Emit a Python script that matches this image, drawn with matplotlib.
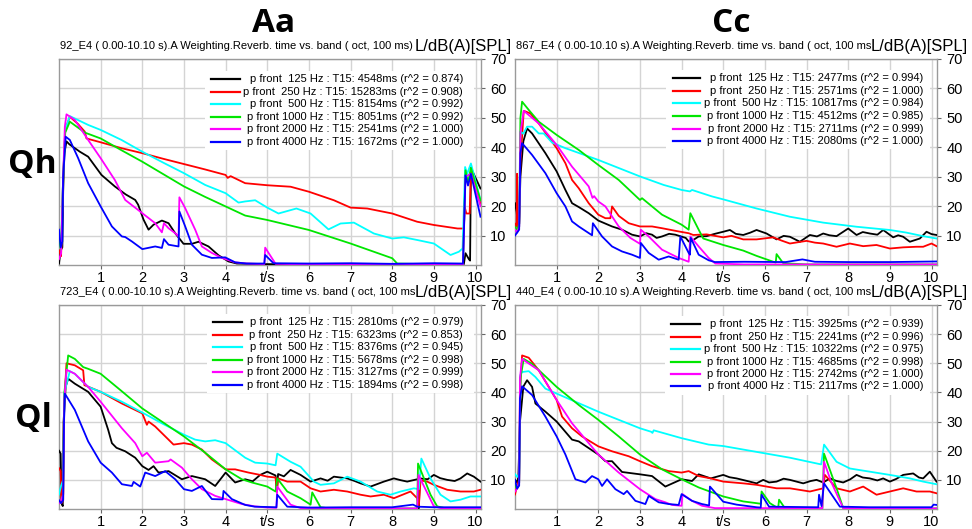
import matplotlib
matplotlib.use("Agg")
import matplotlib.pyplot as plt
from matplotlib.patches import Rectangle

plt.rcParams['font.family'] = ['Liberation Sans', 'DejaVu Sans']

# bands / colours shared by every panel
bands = [' 125', ' 250', ' 500', '1000', '2000', '4000']
colors = ['#000000', '#ff0000', '#00ffff', '#00e600', '#ff00ff', '#0000ff']

# ---------------- Aa / Qh  (92_E4) ----------------
aa_qh_t15 = [4548, 15283, 8154, 8051, 2541, 1672]
aa_qh_r2 = ['0.874', '0.908', '0.992', '0.992', '1.000', '1.000']
aa_qh_125 = [(0, 0.5), (0.04, 5), (0.08, 6), (0.1, 25), (0.13, 38), (0.18, 42), (0.25, 41), (0.5, 38.5), (0.7, 36.8),
             (1.02, 30.6), (1.34, 26.7), (1.6, 24), (1.83, 22.1), (1.9, 20.5), (2.03, 15.4), (2.15, 12), (2.27, 13.7),
             (2.47, 15.1), (2.63, 14.2), (2.79, 10.8), (2.99, 7.2), (3.19, 7.2), (3.35, 7.9), (3.59, 6.3), (3.83, 3.3),
             (4.07, 1.2), (4.27, 0.5), (5, 0.3), (6, 0.2), (7, 0.2), (8, 0.2), (9, 0.2), (9.72, 0.3), (9.76, 4),
             (9.84, 2), (9.87, 1.5), (9.89, 33), (10.12, 26)]
aa_qh_250 = [(0, 5), (0.05, 3), (0.1, 30), (0.15, 46), (0.26, 50.4), (0.45, 48), (0.62, 45.3), (0.66, 43), (1.0, 41.7),
             (1.5, 39.7), (2, 38), (2.5, 36.1), (3, 34.3), (3.5, 32.5), (4, 30.6), (4.05, 29.6), (4.12, 30.2),
             (4.47, 27.8), (5.0, 27.1), (5.56, 26.6), (6, 24.9), (6.6, 22), (7, 19.5), (7.4, 19.2), (8, 17.5),
             (8.6, 14.7), (9, 13.6), (9.57, 12.4), (9.72, 12.4), (9.74, 19.8), (9.78, 17.5), (9.86, 17.5),
             (9.89, 32), (10.12, 21)]
aa_qh_500 = [(0, 11), (0.05, 6), (0.1, 30), (0.15, 46), (0.26, 50.6), (0.7, 47.6), (1, 45.9), (1.5, 42.5), (2, 38.5),
             (2.5, 34.8), (3, 31.2), (3.51, 27.2), (4, 24.4), (4.31, 21.2), (4.47, 21.6), (4.71, 22), (5, 19.5),
             (5.27, 17.5), (5.7, 19.2), (6.04, 17.5), (6.47, 12.1), (6.76, 14.1), (7.08, 14.4), (7.56, 10.7), (8, 9),
             (8.28, 9.4), (8.6, 8.5), (9, 7.3), (9.4, 3.4), (9.6, 4.5), (9.69, 5.6), (9.75, 33.3), (9.8, 31),
             (9.89, 34.5), (10.12, 22)]
aa_qh_1000 = [(0, 9), (0.05, 5), (0.1, 30), (0.15, 45), (0.26, 48.7), (0.62, 45), (1, 43), (1.5, 39), (2, 35.1),
              (2.5, 30.9), (3, 26.7), (3.5, 23.2), (4, 19.9), (4.47, 16.8), (5, 15.3), (5.5, 13.6), (6, 11.9),
              (6.5, 9.6), (7, 7.3), (7.5, 4.8), (8, 2.3), (8.12, 0.5), (9, 0.2), (9.7, 0.3), (9.76, 32.2),
              (9.82, 28), (9.89, 33), (10.12, 22)]
aa_qh_2000 = [(0, 2), (0.05, 4), (0.1, 30), (0.14, 47), (0.18, 51.2), (0.38, 49.3), (0.7, 42.5), (1, 36.3),
              (1.34, 28.9), (1.59, 22.1), (2, 17.6), (2.31, 14.2), (2.47, 11.1), (2.52, 14.2), (2.63, 12.5),
              (2.79, 10.8), (2.87, 9.7), (2.89, 23), (3.03, 19.3), (3.27, 12), (3.43, 6.3), (3.67, 4.1), (3.91, 2.4),
              (4.23, 0.9), (4.5, 0.5), (4.93, 0.3), (4.95, 5.9), (5.2, 0.4), (6, 0.2), (9.7, 0.2), (9.76, 30),
              (9.89, 31), (10.12, 20)]
aa_qh_4000 = [(0, 12), (0.04, 6), (0.08, 8), (0.1, 30), (0.16, 43.6), (0.26, 42.5), (0.46, 36.3), (0.7, 27.8),
              (1, 19.9), (1.27, 13.1), (1.51, 9.7), (1.59, 9.5), (1.75, 8), (2, 5.4), (2.31, 6.3), (2.47, 5.8),
              (2.52, 8.8), (2.63, 6.9), (2.87, 6.3), (2.89, 18.2), (3.03, 13.1), (3.19, 6.9), (3.43, 3.5),
              (3.67, 2.4), (3.99, 2.6), (4.23, 0.9), (4.5, 0.5), (4.93, 0.5), (4.95, 3.4), (5.15, 0.6), (6, 0.5),
              (7, 0.6), (8, 0.4), (9, 0.6), (9.7, 0.5), (9.76, 30.5), (9.82, 27), (9.89, 31), (10.12, 16.4)]

# ---------------- Cc / Qh  (867_E4) ----------------
cc_qh_t15 = [2477, 2571, 10817, 4512, 2711, 2080]
cc_qh_r2 = ['0.994', '1.000', '0.984', '0.985', '0.999', '1.000']
cc_qh_125 = [(0, 21), (0.04, 18), (0.07, 13), (0.1, 14), (0.13, 30), (0.2, 42), (0.29, 46.4), (0.41, 44.7),
             (0.73, 38), (1, 31.8), (1.21, 25.5), (1.37, 21), (1.53, 19.7), (1.77, 17.6), (2, 15.1), (2.33, 13.1),
             (2.57, 12), (2.81, 10.3), (3, 9.7), (3.15, 10.8), (3.29, 10.3), (3.4, 9.2), (3.53, 9.7), (3.7, 10.6),
             (3.85, 10.3), (4.1, 9.2), (4.17, 8), (4.28, 8.5), (4.41, 9.7), (4.6, 9.8), (4.8, 10.6), (5, 11.3),
             (5.16, 11.9), (5.3, 10.6), (5.48, 10.2), (5.65, 11), (5.8, 11.9), (6.04, 10.7), (6.28, 8.7),
             (6.45, 9.9), (6.6, 9.6), (6.84, 7.9), (7.08, 10.2), (7.25, 9.7), (7.4, 10.7), (7.55, 10.1),
             (7.72, 9.8), (8, 12.4), (8.2, 10.2), (8.35, 11.2), (8.52, 10.7), (8.7, 10.3), (8.84, 11.9),
             (9.08, 9.4), (9.2, 10.1), (9.32, 9.6), (9.48, 7.9), (9.72, 9), (9.88, 11.3), (10, 10.5), (10.12, 10.2)]
cc_qh_250 = [(0, 14), (0.04, 13), (0.05, 31), (0.07, 13), (0.1, 13), (0.13, 35), (0.21, 52.4), (0.37, 51.5),
             (0.57, 48.1), (1, 39.7), (1.21, 34.6), (1.37, 28.9), (1.53, 26.1), (1.77, 21), (2, 17.1), (2.17, 15.9),
             (2.29, 15.9), (2.33, 19.9), (2.49, 16.7), (2.73, 14.2), (3, 13.1), (3.29, 13.1), (3.53, 12.5),
             (3.93, 11.4), (4.17, 10.8), (4.28, 10.2), (4.6, 10.4), (5, 9.4), (5.2, 9.9), (5.48, 8.7), (5.8, 8.7),
             (6.2, 9.4), (6.4, 8.3), (6.6, 7.3), (7, 8.2), (7.2, 7.6), (7.4, 7.3), (7.72, 6.2), (8.04, 7.3),
             (8.36, 6.4), (8.68, 6.8), (9, 5.6), (9.32, 6), (9.64, 6.2), (9.8, 6.2), (10, 7.3), (10.12, 6.4)]
cc_qh_500 = [(0, 12), (0.05, 11), (0.1, 13), (0.13, 45.3), (0.2, 44.6), (0.29, 47), (0.41, 47), (0.57, 44.7),
             (0.69, 44.7), (0.89, 41.6), (1.21, 39.7), (2, 35.7), (3, 30.1), (3.57, 27.2), (4, 25.5), (4.2, 25),
             (4.25, 25.5), (4.73, 23.3), (5, 22.3), (5.8, 19.2), (6.6, 16.4), (7.4, 14.4), (8.2, 13), (9, 11.9),
             (9.4, 11), (9.8, 9.8), (10.12, 9)]
cc_qh_1000 = [(0, 13), (0.05, 12), (0.1, 14), (0.13, 50), (0.17, 55.5), (0.33, 52.7), (0.57, 48.7), (1, 44.2),
              (1.53, 39.1), (2, 34), (2.49, 28.9), (3, 22.1), (3.05, 22.7), (3.53, 17.1), (4, 13.7), (4.17, 12),
              (4.21, 17.6), (4.41, 12), (4.52, 9), (5, 6.8), (5.48, 4.9), (5.8, 3.1), (6.2, 1.1), (6.26, 0.8),
              (6.28, 3.7), (6.44, 0.6), (7, 0.2), (8, 0.2), (9, 0.2), (10.12, 0.2)]
cc_qh_2000 = [(0, 12), (0.05, 11), (0.1, 13), (0.13, 45), (0.21, 52.4), (0.57, 48.1), (1, 40.8), (1.37, 33.4),
              (1.77, 26.7), (1.86, 22.8), (1.9, 23.4), (2, 21.6), (2.17, 19.9), (2.49, 13.1), (2.77, 9.2), (3, 7.2),
              (3.02, 12), (3.21, 9.7), (3.53, 5.2), (3.93, 2.4), (4.17, 1.1), (4.21, 9.7), (4.41, 6.3), (4.65, 2.4),
              (4.81, 0.5), (5.5, 0.2), (10.12, 0.2)]
cc_qh_4000 = [(0, 10), (0.05, 11), (0.1, 12), (0.13, 38), (0.17, 41.4), (0.41, 37.4), (0.73, 31.2), (1, 24.4),
              (1.21, 19.9), (1.37, 14.8), (1.53, 13.1), (1.85, 10.1), (1.87, 14.2), (2.09, 9.7), (2.33, 6.3),
              (2.57, 4.6), (2.81, 3.5), (3, 2.4), (3.02, 7.5), (3.21, 4.1), (3.45, 1.8), (3.69, 2.9), (3.93, 1.8),
              (3.97, 9.7), (4.17, 4.1), (4.2, 3.5), (4.22, 9.2), (4.41, 3.5), (4.65, 1.6), (4.8, 1.0), (5.5, 1.1),
              (6.5, 1.0), (6.9, 1.9), (7.2, 1.1), (8, 1.0), (9, 1.0), (10.12, 1.2)]

# ---------------- Aa / Ql  (723_E4) ----------------
aa_ql_t15 = [2810, 6323, 8376, 5678, 3127, 1894]
aa_ql_r2 = ['0.979', '0.853', '0.945', '0.998', '0.999', '0.998']
aa_ql_125 = [(0, 20), (0.04, 19), (0.06, 2), (0.09, 1), (0.11, 30), (0.16, 42), (0.22, 44.7), (0.38, 43),
             (0.7, 40.2), (1, 35.1), (1.18, 27.2), (1.27, 22.6), (1.38, 21), (1.59, 19.8), (1.83, 17.6), (2, 14.7),
             (2.15, 13.4), (2.27, 14.7), (2.39, 12.5), (2.63, 13), (2.95, 10.2), (3.19, 11.3), (3.51, 10.2),
             (3.75, 7.9), (4, 12.5), (4.23, 9.1), (4.47, 10.2), (4.65, 9.5), (4.83, 11.7), (5, 12.8), (5.2, 11.5),
             (5.23, 6), (5.26, 12), (5.4, 11.2), (5.56, 13.4), (5.8, 11.7), (6.04, 9.4), (6.28, 10.5), (6.45, 9.7),
             (6.6, 11.1), (6.92, 10.5), (7.1, 9.6), (7.24, 8.8), (7.48, 7.7), (7.8, 9.4), (8.04, 10.5), (8.2, 9.9),
             (8.36, 9.4), (8.63, 10.3), (8.64, 0.3), (8.66, 10.5), (8.85, 10.2), (9, 11.7), (9.15, 10.6),
             (9.32, 10), (9.5, 9.6), (9.64, 10.5), (9.8, 12.2), (9.96, 11.1), (10.12, 9.4)]
aa_ql_250 = [(0, 14), (0.04, 13), (0.06, 2), (0.1, 3), (0.12, 35), (0.18, 50), (0.38, 49.3), (0.58, 47.6),
             (0.61, 42.5), (1, 40.2), (1.51, 36.2), (2, 32.8), (2.11, 28.9), (2.15, 30), (2.31, 28.3), (2.63, 23.8),
             (2.75, 22.1), (3, 22.6), (3.19, 22.1), (3.43, 20.4), (3.67, 17), (4, 13.6), (4.23, 13.6), (4.55, 12.5),
             (4.83, 11.7), (5, 11.1), (5.2, 10.8), (5.23, 6), (5.26, 10.5), (5.48, 9.4), (5.8, 9.4), (6.04, 7.1),
             (6.28, 6), (6.6, 6.6), (6.92, 6), (7.24, 4.9), (7.48, 4.3), (7.8, 4.9), (8.04, 3.7), (8.44, 6),
             (8.6, 3.7), (8.64, 1), (8.68, 9.8), (8.84, 9.4), (9, 8.3), (9.32, 6.6), (9.64, 6), (9.96, 6),
             (10.12, 6.6)]
aa_ql_500 = [(0, 5), (0.05, 8), (0.1, 10), (0.13, 40), (0.26, 47.3), (0.38, 46.4), (0.62, 43), (0.7, 41.9),
             (1, 40.2), (1.51, 36.8), (2, 33.1), (2.47, 29.4), (3, 25.5), (3.27, 23.8), (3.51, 23.2), (3.75, 23.6),
             (4, 22.6), (4.47, 17.6), (4.71, 15.9), (5, 15.6), (5.2, 15), (5.24, 19), (5.56, 16.2), (5.8, 14.5),
             (6.12, 9.4), (6.28, 8.3), (6.6, 8.8), (6.92, 11.1), (7.24, 9.4), (7.64, 6), (7.96, 4.9), (8.2, 6),
             (8.52, 7.1), (8.64, 6.8), (8.7, 17.3), (8.92, 10.5), (9.16, 4.9), (9.4, 2.6), (9.64, 3.2), (9.88, 4.3),
             (10.12, 4.3)]
aa_ql_1000 = [(0, 2), (0.05, 3), (0.1, 5), (0.13, 40), (0.22, 52.7), (0.38, 51.5), (0.58, 48.7), (0.7, 48.1),
              (1, 46.4), (1.5, 40.5), (2, 34.5), (2.5, 29.7), (3, 24.9), (3.51, 19.3), (4, 13.6), (4.39, 10.2),
              (4.63, 9.1), (5, 7.7), (5.2, 6), (5.24, 10.5), (5.48, 6), (5.8, 3.7), (6.04, 1.5), (6.08, 5.7),
              (6.28, 0.6), (6.5, 0.2), (8.6, 0.2), (8.62, 15.6), (8.92, 4.9), (9.08, 0.9), (9.3, 0.2), (10.12, 0.2)]
aa_ql_2000 = [(0, 2), (0.05, 3), (0.1, 5), (0.13, 38), (0.18, 47.8), (0.38, 46.4), (0.7, 41.9), (1, 36.8),
              (1.51, 27.7), (1.83, 22.6), (2, 18.1), (2.11, 19.3), (2.31, 15.9), (2.63, 16.4), (2.68, 17),
              (2.95, 14.2), (3.19, 10.2), (3.43, 6.8), (3.75, 4.5), (4, 3.4), (4.39, 1.7), (4.7, 0.9), (5, 0.5),
              (5.22, 0.4), (5.24, 7.7), (5.56, 1.5), (5.8, 0.3), (8.6, 0.2), (8.63, 11.7), (9, 0.9), (9.2, 0.2),
              (10.12, 0.2)]
aa_ql_4000 = [(0, 3), (0.05, 2), (0.1, 3), (0.12, 30), (0.14, 39.6), (0.38, 34), (0.7, 23.2), (1, 15.9),
              (1.27, 12.5), (1.51, 8.5), (1.75, 7.9), (1.79, 9.3), (1.95, 7.7), (2.07, 12.5), (2.31, 11.3),
              (2.55, 13), (2.79, 10.2), (3, 6.8), (3.19, 6.2), (3.43, 7.9), (3.67, 3.4), (3.93, 3.3), (3.95, 6.2),
              (4.15, 3.4), (4.47, 1.4), (4.7, 0.8), (5.22, 0.6), (5.24, 4.9), (5.48, 0.8), (6, 0.5), (7, 0.6),
              (8, 0.6), (8.5, 1.5), (8.6, 0.8), (9, 0.6), (10.12, 0.6)]

# ---------------- Cc / Ql  (440_E4) ----------------
cc_ql_t15 = [3925, 2241, 10322, 4685, 2742, 2117]
cc_ql_r2 = ['0.939', '0.996', '0.975', '0.998', '1.000', '1.000']
cc_ql_125 = [(0, 10), (0.05, 9), (0.08, 11), (0.12, 30), (0.2, 42), (0.29, 44.2), (0.41, 41.9), (0.45, 39.1),
             (0.49, 36.2), (0.73, 33.4), (1, 30), (1.37, 23.8), (1.53, 23.2), (2, 18.7), (2.17, 16.4), (2.33, 16.4),
             (2.57, 12.7), (3, 11.9), (3.29, 11.3), (3.61, 7.7), (4, 10.2), (4.25, 9.6), (4.41, 11.9), (4.7, 10.5),
             (5, 11.7), (5.15, 10.9), (5.32, 10.5), (5.55, 9.7), (5.8, 8.8), (5.96, 10), (6.1, 9.1), (6.28, 9.4),
             (6.45, 10.4), (6.6, 10), (6.92, 8.8), (7.1, 9.6), (7.24, 10), (7.4, 9.1), (7.56, 10.5), (7.7, 9.7),
             (7.88, 9.1), (8.05, 10.2), (8.2, 11.7), (8.35, 10.8), (8.52, 10.5), (8.7, 9.8), (8.84, 10.5),
             (9, 9.4), (9.15, 10.3), (9.32, 11.7), (9.56, 12.2), (9.7, 10.8), (9.8, 10.5), (9.96, 12.8),
             (10.12, 9.4)]
cc_ql_250 = [(0, 5), (0.05, 8), (0.1, 10), (0.12, 40), (0.17, 52.7), (0.33, 51.9), (0.57, 47.6), (1, 37.4),
             (1.13, 31.7), (1.37, 27.7), (1.61, 24.9), (2, 21.5), (2.33, 19.8), (2.73, 18.1), (3, 16.4),
             (3.29, 14.7), (3.69, 13), (4, 12.5), (4.17, 13), (4.41, 11.3), (4.7, 10.5), (5, 9.4), (5.48, 8.8),
             (5.8, 8.3), (6.28, 7.1), (6.6, 7.1), (7.08, 6), (7.4, 7.1), (7.44, 11.7), (7.72, 7.1), (8.04, 6),
             (8.36, 7.7), (8.68, 4.9), (9, 6), (9.32, 7.1), (9.64, 6), (9.96, 6), (10.12, 5.4)]
cc_ql_500 = [(0, 12), (0.05, 11), (0.1, 12), (0.13, 46), (0.17, 47), (0.33, 47.3), (0.49, 45.3), (0.73, 41.3),
             (1, 39.6), (2, 33.4), (3, 27.7), (3.27, 26.5), (3.3, 26.1), (3.33, 27), (4, 24.3), (4.65, 22.1),
             (5, 21.6), (5.8, 19.6), (6.6, 17.6), (7.35, 15.3), (7.42, 22.1), (7.72, 16.2), (8.04, 13.9),
             (8.52, 12.8), (9, 11.7), (9.48, 10.5), (9.8, 9.4), (10.12, 8.5)]
cc_ql_1000 = [(0, 8), (0.05, 7), (0.1, 9), (0.13, 45), (0.21, 51.5), (0.41, 49.8), (1, 41.9), (1.53, 35.7),
              (2, 30.6), (2.49, 24.9), (3, 18.7), (3.53, 13.6), (4, 10.2), (4.41, 7.4), (5, 4.3), (5.48, 2.6),
              (5.8, 2), (5.9, 1.8), (5.92, 6), (6.12, 2), (6.28, 0.6), (6.32, 0.5), (6.34, 3.2), (6.48, 0.3),
              (7.38, 0.2), (7.42, 19), (7.72, 7.1), (7.88, 0.3), (10.12, 0.2)]
cc_ql_2000 = [(0, 6), (0.05, 7), (0.1, 9), (0.12, 45), (0.17, 51.5), (0.57, 47.6), (1, 37.4), (1.37, 29.4),
              (2, 18.7), (2.49, 12.5), (3, 6.8), (3.37, 3.4), (3.61, 2.3), (3.77, 1.4), (4, 1.1), (4.02, 5.1),
              (4.25, 2.8), (4.49, 1.1), (4.8, 0.3), (7.38, 0.3), (7.42, 16.2), (7.6, 9), (7.88, 0.3), (10.12, 0.2)]
cc_ql_4000 = [(0, 10), (0.05, 7), (0.1, 8), (0.12, 38), (0.17, 42.1), (0.41, 39.1), (0.73, 31.7), (1, 24.9),
              (1.21, 18.7), (1.45, 10.2), (1.69, 9.1), (1.85, 11.3), (2, 10.2), (2.09, 7.9), (2.21, 10.2),
              (2.41, 6.8), (2.61, 5.1), (2.69, 6.2), (2.89, 2.8), (3.13, 1.7), (3.21, 4.5), (3.45, 2.3), (3.69, 1.7),
              (3.93, 1.4), (4, 5.1), (4.25, 2.8), (4.49, 1.7), (4.66, 1.2), (4.68, 7.7), (5.0, 2.5), (5.32, 1.5),
              (5.8, 0.6), (5.9, 0.5), (5.92, 4.9), (6.1, 0.8), (7.28, 0.6), (7.3, 4.9), (7.36, 1), (7.42, 8.8),
              (7.8, 0.8), (8.5, 0.6), (10, 0.6), (10.05, 1.5), (10.12, 1.4)]

xticks = [1, 2, 3, 4, 5, 6, 7, 8, 9, 10]
xlabels = ['1', '2', '3', '4', 't/s', '6', '7', '8', '9', '10']
yticks = [10, 20, 30, 40, 50, 60, 70]

W, H = 972, 529
fig = plt.figure(figsize=(W / 100, H / 100), dpi=100)


def px(x, y):
    return x / W, 1 - y / H


def panel(left, top, height, curves, t15, r2, title, leg_top, leg_x0, leg_x1, txt_x):
    right, bottom = left + 421.5, top + height
    ax = fig.add_axes([left / W, 1 - bottom / H, (right - left) / W, (bottom - top) / H])
    for pts, c in zip(curves, colors):
        t, db = zip(*pts)
        ax.plot(t, db, color=c, lw=1.3, zorder=3, solid_joinstyle='round')
    ax.set_xlim(0, 10.12)
    ax.set_ylim(0, 70)
    ax.set_xticks(xticks)
    ax.set_xticklabels(xlabels)
    ax.yaxis.tick_right()
    ax.set_yticks(yticks)
    ax.tick_params(labelsize=10.5, length=3, width=0.8, color='#666666', pad=1)
    ax.tick_params(axis='y', pad=4)
    ax.grid(True, color='#d4d4d4', lw=1)
    ax.set_axisbelow(True)
    for s in ax.spines.values():
        s.set_color('#9a9a9a')
        s.set_linewidth(1)
    # legend drawn by hand so the text can be right aligned like the original
    ax.add_patch(Rectangle((leg_x0 - 0.015, leg_top - 5 * 0.061 - 0.04), 0.985 - leg_x0 + 0.015, 5 * 0.061 + 0.08,
                           transform=ax.transAxes, facecolor='white', edgecolor='none', zorder=4))
    for i, (b, c) in enumerate(zip(bands, colors)):
        y = leg_top - i * 0.061
        ax.plot([leg_x0, leg_x1], [y, y], color=c, lw=1.6, transform=ax.transAxes, zorder=5)
        ax.text(txt_x, y, f'p front {b} Hz : T15: {t15[i]}ms (r^2 = {r2[i]})', transform=ax.transAxes,
                ha='right', va='center', fontsize=8, zorder=5)
    fig.text(*px(left + 1, top - 13), title, fontsize=8, ha='left', va='center')
    fig.text(*px(right + 31, top - 12), 'L/dB(A)[SPL]', fontsize=12, ha='right', va='center')
    return ax


panel(59, 59, 206, [aa_qh_125, aa_qh_250, aa_qh_500, aa_qh_1000, aa_qh_2000, aa_qh_4000], aa_qh_t15, aa_qh_r2,
      '92_E4 ( 0.00-10.10 s).A Weighting.Reverb. time vs. band ( oct, 100 ms)', 0.903, 0.361, 0.43, 0.959)
panel(515, 59, 206, [cc_qh_125, cc_qh_250, cc_qh_500, cc_qh_1000, cc_qh_2000, cc_qh_4000], cc_qh_t15, cc_qh_r2,
      '867_E4 ( 0.00-10.10 s).A Weighting.Reverb. time vs. band ( oct, 100 ms', 0.906, 0.374, 0.44, 0.968)
panel(59, 305, 204, [aa_ql_125, aa_ql_250, aa_ql_500, aa_ql_1000, aa_ql_2000, aa_ql_4000], aa_ql_t15, aa_ql_r2,
      '723_E4 ( 0.00-10.10 s).A Weighting.Reverb. time vs. band ( oct, 100 ms', 0.915, 0.365, 0.434, 0.959)
panel(515, 305, 204, [cc_ql_125, cc_ql_250, cc_ql_500, cc_ql_1000, cc_ql_2000, cc_ql_4000], cc_ql_t15, cc_ql_r2,
      '440_E4 ( 0.00-10.10 s).A Weighting.Reverb. time vs. band ( oct, 100 ms', 0.906, 0.371, 0.44, 0.968)

big = dict(family=['Open Sans', 'DejaVu Sans'], fontweight='bold', fontsize=24, ha='center', va='center')
fig.text(*px(274, 24), 'Aa', **big)
fig.text(*px(731, 24), 'Cc', **big)
fig.text(*px(32, 165), 'Qh', **big)
fig.text(*px(33, 418), 'Ql', **big)

fig.savefig('out.png', dpi=100, facecolor='white')
